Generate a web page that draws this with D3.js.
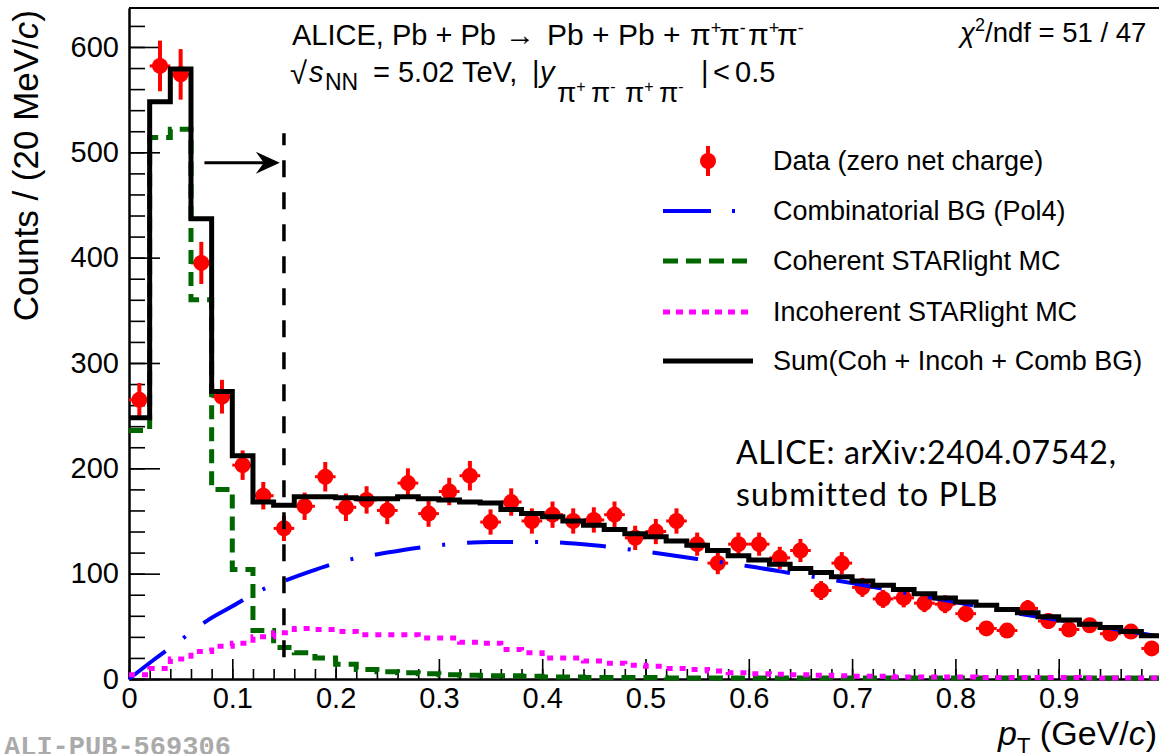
<!DOCTYPE html>
<html><head><meta charset="utf-8">
<script src="https://cdn.jsdelivr.net/npm/d3@7"></script>
<style>body{margin:0;background:#fff}svg{display:block}</style>
</head><body>
<svg id="c" width="1159" height="754"></svg>
<script>
// ---------- data ----------
const ptCenters = [0.01,0.03,0.05,0.07,0.09,0.11,0.13,0.15,0.17,0.19,0.21,0.23,0.25,0.27,0.29,0.31,0.33,0.35,0.37,0.39,
  0.41,0.43,0.45,0.47,0.49,0.51,0.53,0.55,0.57,0.59,0.61,0.63,0.65,0.67,0.69,0.71,0.73,0.75,0.77,0.79,
  0.81,0.83,0.85,0.87,0.89,0.91,0.93,0.95,0.97,0.99];
const binHalfWidth = 0.01;
const dataCounts = [265,582,574,395,268,203,174,143,164,192,163,170,160,186,157,178,193,149,168,150,
  156,150,151,156,134,140,150,128,110,128,128,115,122,84,110,87,76,77,72,71,
  62,48,46,67,55,47,51,43,45,29];
const dataErrors = [16,24,24,20,16,14,13,12,13,14,13,13,13,14,12.5,13,14,12,13,12,
  12.5,12,12,12.5,11.5,12,12,11,10.5,11,11,10.5,11,9,10.5,9,8.5,9,8.5,8.5,
  8,7,7,8,7.5,7,7,6.5,6.5,5.5];
const sumHist = [248,548,579,437,273,212,168,165,173,173,172,171,171,173,171,170,168,167,161,157,
  154,150,146,142,138,135,131,127,122,117,113,109,105,101,97,93,89,85,81,77,
  73,70,66,63,59,56,52,49,45,41];
const cohHist = [236,514,522,360,180,104,46,30,25,20,14,9,7,6,5,4,3.5,3,3,2.5,
  2,2,1.5,1.5,1.5,1.5,1,1,1,1,1,1,1,1,1,1,1,1,1,1,
  1,1,1,1,1,1,1,1,1,1];
const incohHist = [4,10,19,26,31,34,40,44,48,47,45,42,42,42,39,39,35,34,28,25,
  20,20,17,15,13,12,10,9,7.5,6,5,4.5,4,3.5,3,2.5,2.5,2,2,2,
  2,1.5,1.5,1.5,1.5,1.5,1,1,1,1];
const combPt  = [0,0.025,0.05,0.075,0.1,0.125,0.15,0.175,0.2,0.25,0.3,0.35,0.4,0.45,0.5,0.55,0.6,0.65,0.7,0.75,0.8,0.85,0.9,0.95,1.0];
const combVal = [0,19,37,55,69,83,93,102,110,120,127,130,130,127,121,114,107,99,91,82,73,64,56,48,40];
const xTicks = [0,0.1,0.2,0.3,0.4,0.5,0.6,0.7,0.8,0.9];
const xTickLabels = ["0","0.1","0.2","0.3","0.4","0.5","0.6","0.7","0.8","0.9"];
const yTicks = [0,100,200,300,400,500,600];
const yTickLabels = ["0","100","200","300","400","500","600"];
const legendLabels = ["Data (zero net charge)","Combinatorial BG (Pol4)","Coherent STARlight MC","Incoherent STARlight MC","Sum(Coh + Incoh + Comb BG)"];
const cutPt = 0.15;

// ---------- setup ----------
const svg = d3.select("#c");
const FONT = "'Liberation Sans', Arial, Helvetica, sans-serif";
const x = d3.scaleLinear().domain([0, 1.0]).range([129, 1162]);
const y = d3.scaleLinear().domain([0, 637]).range([679, 8]);
const RED = "#ff0000", BLUE = "#0000ff", GREEN = "#006600", MAG = "#ff00ff";

// axes
const gx = svg.append("g").attr("transform", `translate(0,${y(0)})`);
gx.call(d3.axisBottom(x).tickValues(d3.range(0, 1.0001, 0.02).filter(v => x(v) < 1159)).tickSize(-10).tickSizeOuter(0).tickFormat(""));
gx.append("g").call(d3.axisBottom(x).tickValues(xTicks).tickSize(-20).tickSizeOuter(0).tickPadding(8)
  .tickFormat((d,i) => xTickLabels[i]));
const gy = svg.append("g").attr("transform", `translate(${x(0)},0)`);
gy.call(d3.axisLeft(y).tickValues(d3.range(0, 637, 20)).tickSize(-16).tickSizeOuter(0).tickFormat(""));
gy.append("g").call(d3.axisLeft(y).tickValues(yTicks).tickSize(-31).tickSizeOuter(0).tickPadding(10)
  .tickFormat((d,i) => yTickLabels[i]));
svg.selectAll(".tick line").attr("stroke", "#000").attr("stroke-width", 1.6);
svg.selectAll(".domain").attr("stroke", "#000").attr("stroke-width", 2);
svg.selectAll(".tick text").attr("font-family", FONT).attr("font-size", 29).attr("fill", "#000");
// frame top & right
svg.append("line").attr("x1", x(0)).attr("x2", x(1.0)).attr("y1", y(637)).attr("y2", y(637)).attr("stroke", "#000").attr("stroke-width", 2);
svg.append("line").attr("x1", x(1.0)).attr("x2", x(1.0)).attr("y1", y(637)).attr("y2", y(0)).attr("stroke", "#000").attr("stroke-width", 2);

// ---------- data points ----------
const gd = svg.append("g");
ptCenters.forEach((p, i) => {
  gd.append("line").attr("x1", x(p)).attr("x2", x(p)).attr("y1", y(dataCounts[i] - dataErrors[i])).attr("y2", y(dataCounts[i] + dataErrors[i]))
    .attr("stroke", RED).attr("stroke-width", 4);
  gd.append("line").attr("x1", x(p - binHalfWidth)).attr("x2", x(p + binHalfWidth)).attr("y1", y(dataCounts[i])).attr("y2", y(dataCounts[i]))
    .attr("stroke", RED).attr("stroke-width", 3);
  gd.append("circle").attr("cx", x(p)).attr("cy", y(dataCounts[i])).attr("r", 8).attr("fill", RED);
});

// ---------- curves ----------
function stepPath(vals) {
  const pts = vals.map((v, i) => [ptCenters[i] - binHalfWidth, v]);
  pts.push([ptCenters[ptCenters.length - 1] + binHalfWidth, vals[vals.length - 1]]);
  return d3.line().x(d => x(d[0])).y(d => y(d[1])).curve(d3.curveStepAfter)(pts);
}
svg.append("path").attr("d", d3.line().x((d, i) => x(combPt[i])).y(d => y(d)).curve(d3.curveMonotoneX)(combVal))
  .attr("fill", "none").attr("stroke", BLUE).attr("stroke-width", 4).attr("stroke-dasharray", "46,22,3,22");
svg.append("path").attr("d", stepPath(cohHist)).attr("fill", "none").attr("stroke", GREEN).attr("stroke-width", 5).attr("stroke-dasharray", "14,8");
svg.append("path").attr("d", stepPath(incohHist)).attr("fill", "none").attr("stroke", MAG).attr("stroke-width", 5).attr("stroke-dasharray", "6,7");
svg.append("path").attr("d", stepPath(sumHist)).attr("fill", "none").attr("stroke", "#000").attr("stroke-width", 5);

// cut line and arrow
svg.append("line").attr("x1", x(cutPt)).attr("x2", x(cutPt)).attr("y1", y(518)).attr("y2", y(10))
  .attr("stroke", "#000").attr("stroke-width", 3.5).attr("stroke-dasharray", "17,15").attr("stroke-dashoffset", 5);
const ay = y(490), ax0 = x(0.073), ax1 = x(0.146);
svg.append("line").attr("x1", ax0).attr("x2", ax1 - 12).attr("y1", ay).attr("y2", ay).attr("stroke", "#000").attr("stroke-width", 3);
svg.append("path").attr("d", `M${ax1},${ay} L${ax1 - 24},${ay - 11} L${ax1 - 16},${ay} L${ax1 - 24},${ay + 11} Z`).attr("fill", "#000");

// ---------- texts ----------
function t(xp, yp, size, anchor) {
  return svg.append("text").attr("x", xp).attr("y", yp).attr("font-family", FONT).attr("font-size", size).attr("fill", "#000").attr("text-anchor", anchor || "start");
}
function pis(sel, x0, yBase, yUp, fs, fsSup, step) {
  ["+","-","+","-"].forEach((s, k) => {
    sel.append("tspan").attr("x", x0 + k * step).attr("y", yBase).attr("font-size", fs).text("\u03c0");
    sel.append("tspan").attr("y", yUp).attr("font-size", fsSup).text(s);
  });
}
// header line 1
const h1 = t(292, 45, 30);
h1.append("tspan").attr("x", 292).attr("y", 45).attr("font-size", 29).text("ALICE, Pb + Pb");
h1.append("tspan").attr("x", 505).attr("y", 45).attr("font-size", 30).text("\u2192");
h1.append("tspan").attr("x", 547).attr("y", 45).text("Pb + Pb +");
pis(h1, 690, 45, 34, 30, 18, 29);
// header line 2
const h2 = t(292, 82, 29);
h2.append("tspan").attr("x", 290).attr("y", 84).attr("font-size", 31).text("\u221a");
h2.append("tspan").attr("x", 309).attr("y", 82).attr("font-style", "italic").text("s");
h2.append("tspan").attr("x", 325).attr("y", 90).attr("font-size", 23).text("NN");
h2.append("tspan").attr("x", 373).attr("y", 82).text("= 5.02 TeV,");
h2.append("tspan").attr("x", 532).attr("y", 82).text("|");
h2.append("tspan").attr("x", 540).attr("y", 82).attr("font-style", "italic").text("y");
pis(h2, 557, 102, 92, 28, 16, 34);
h2.append("tspan").attr("x", 701).attr("y", 82).text("|");
h2.append("tspan").attr("x", 713).attr("y", 82).text("<");
h2.append("tspan").attr("x", 735).attr("y", 82).text("0.5");

// chi2
const c2 = t(960, 42, 27.5);
c2.append("tspan").attr("font-style", "italic").text("\u03c7");
c2.append("tspan").attr("font-size", 18).attr("y", 31).text("2");
c2.append("tspan").attr("y", 42).text("/ndf = 51 / 47");

// ALICE arXiv text
const LATO = "Lato, 'Open Sans', sans-serif";
svg.append("text").attr("x", 736).attr("y", 464).attr("font-family", LATO).attr("font-size", 32).attr("letter-spacing", 0.7).text("ALICE: arXiv:2404.07542,");
svg.append("text").attr("x", 736).attr("y", 506).attr("font-family", LATO).attr("font-size", 32).attr("letter-spacing", 1.2).text("submitted to PLB");

// y title
const yt = svg.append("text").attr("transform", "translate(38,10) rotate(-90)").attr("font-family", FONT).attr("font-size", 35).attr("text-anchor", "end");
yt.append("tspan").text("Counts / (20 MeV/");
yt.append("tspan").attr("font-style", "italic").text("c");
yt.append("tspan").text(")");
// x title
const xt = t(1157, 745, 34, "end");
xt.append("tspan").attr("font-style", "italic").text("p");
xt.append("tspan").attr("font-size", 22).attr("dy", 8).text("T");
xt.append("tspan").attr("dy", -8).text(" (GeV/");
xt.append("tspan").attr("font-style", "italic").text("c");
xt.append("tspan").text(")");

// ALI-PUB
svg.append("text").attr("x", 4).attr("y", 755).attr("font-family", "'Liberation Mono', 'DejaVu Sans Mono', monospace").attr("font-weight", "bold")
  .attr("font-size", 27).attr("fill", "#aaaaaa").text("ALI-PUB-569306");

// ---------- legend ----------
const legY = [161, 211, 261, 312, 361];
const lx0 = 663, lx1 = 753;
const gl = svg.append("g");
gl.append("line").attr("x1", 708).attr("x2", 708).attr("y1", legY[0] - 15).attr("y2", legY[0] + 15).attr("stroke", RED).attr("stroke-width", 4);
gl.append("circle").attr("cx", 708).attr("cy", legY[0]).attr("r", 8).attr("fill", RED);
gl.append("line").attr("x1", lx0).attr("x2", lx1 - 15).attr("y1", legY[1]).attr("y2", legY[1]).attr("stroke", BLUE).attr("stroke-width", 4).attr("stroke-dasharray", "48,21,3,40");
gl.append("line").attr("x1", lx0).attr("x2", lx1 - 6).attr("y1", legY[2]).attr("y2", legY[2]).attr("stroke", GREEN).attr("stroke-width", 5).attr("stroke-dasharray", "15,8");
gl.append("line").attr("x1", lx0).attr("x2", lx1).attr("y1", legY[3]).attr("y2", legY[3]).attr("stroke", MAG).attr("stroke-width", 5).attr("stroke-dasharray", "7,6");
gl.append("line").attr("x1", lx0).attr("x2", lx1).attr("y1", legY[4]).attr("y2", legY[4]).attr("stroke", "#000").attr("stroke-width", 5);
legendLabels.forEach((s, i) => {
  t(773, legY[i] + 9, 27).text(s);
});
</script>
</body></html>
